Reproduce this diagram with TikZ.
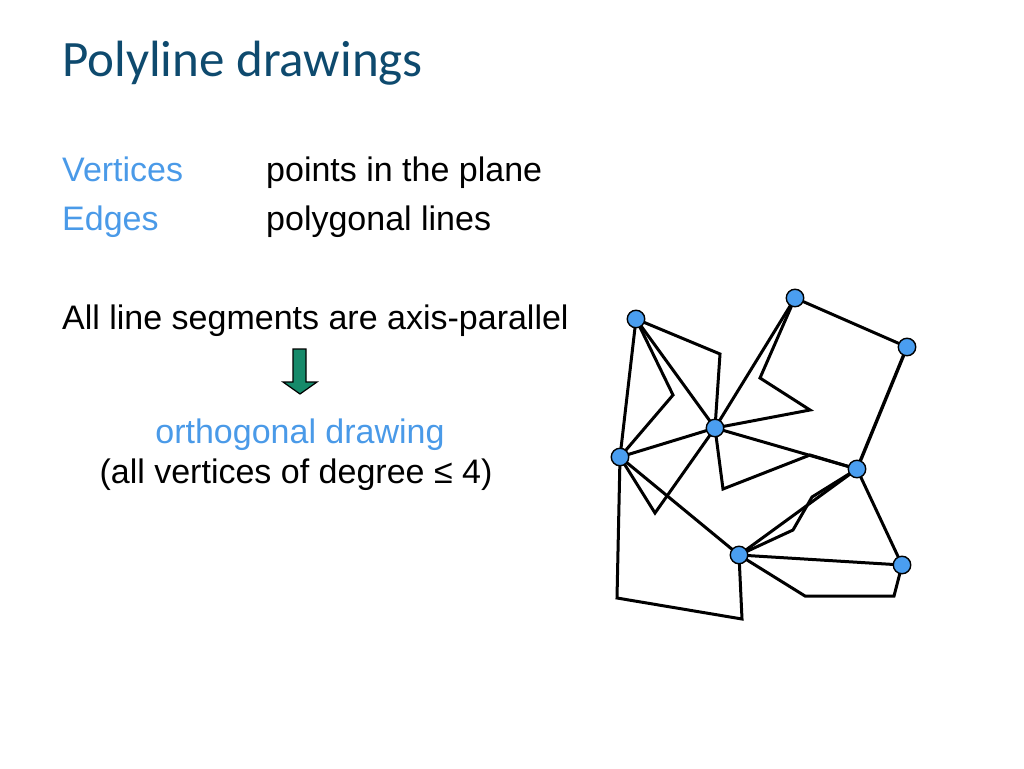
\documentclass[tikz,border=0pt]{standalone}
\usepackage{fontspec}
\setmainfont{Liberation Sans}
\newfontfamily\titlefont{Carlito}
\definecolor{titleblue}{HTML}{0E4A6E}
\definecolor{lightblue}{HTML}{4A9AE8}
\definecolor{vfill}{HTML}{4A9EF0}
\definecolor{arrowgreen}{HTML}{168A6A}
\begin{document}
\begin{tikzpicture}[x=1pt,y=-1pt,
  vtx/.style={circle,draw=black,line width=1.4pt,fill=vfill,minimum size=17.5pt,inner sep=0pt},
  edge/.style={line width=3pt,line join=miter},
  txt/.style={anchor=base west,inner sep=0pt,font=\fontsize{34}{40}\selectfont},
  bluetxt/.style={txt,text=lightblue}]
\useasboundingbox (0,0) rectangle (1024,768);
\node[anchor=base west,inner sep=0pt,text=titleblue,font=\titlefont\fontsize{51}{60}\selectfont] (title) at (62,77) {Polyline drawings};
\node[bluetxt] (lv) at (62,181) {Vertices};
\node[txt] (tv) at (266,181) {points in the plane};
\node[bluetxt] (le) at (62,230) {Edges};
\node[txt] (te) at (266,230) {polygonal lines};
\node[txt] (all) at (62,329) {All line segments are axis-parallel};
\node[bluetxt,anchor=base] (orth) at (300,443) {orthogonal drawing};
\node[txt,anchor=base] (deg) at (296,483) {(all vertices of degree ≤ 4)};
% arrow
\draw[fill=arrowgreen,line width=1.2pt,line join=miter] (293,349) -- (306,349) -- (306,382) -- (317,382) -- (300,394) -- (283,382) -- (293,382) -- cycle;
% vertices positions
\coordinate (A) at (636,319);
\coordinate (B) at (795,298);
\coordinate (C) at (907,347);
\coordinate (D) at (715,428);
\coordinate (E) at (620,457);
\coordinate (F) at (857,469);
\coordinate (G) at (739,555);
\coordinate (H) at (902,565);
% bends
\coordinate (b1) at (720,354);
\coordinate (b2) at (673,395);
\coordinate (b3) at (760,378);
\coordinate (b4) at (810,410);
\coordinate (b5) at (723,489);
\coordinate (b6) at (810,455);
\coordinate (b7) at (655,513);
\coordinate (b8) at (617,598);
\coordinate (b9) at (742,619);
\coordinate (b10) at (793,530);
\coordinate (b11) at (812,497);
\coordinate (b12) at (805,596);
\coordinate (b13) at (894,596);
% edges
\draw[edge] (A) -- (b1) -- (D);
\draw[edge] (A) -- (b2) -- (E);
\draw[edge] (A) -- (D);
\draw[edge] (A) -- (E);
\draw[edge] (B) -- (D);
\draw[edge] (B) -- (b3) -- (b4) -- (D);
\draw[edge] (B) -- (C);
\draw[edge,line width=3.4pt] (C) -- (F);
\draw[edge] (D) -- (E);
\draw[edge] (D) -- (F);
\draw[edge] (D) -- (b5) -- (b6) -- (F);
\draw[edge] (E) -- (b7) -- (D);
\draw[edge] (E) -- (G);
\draw[edge] (E) -- (b8) -- (b9) -- (G);
\draw[edge] (G) -- (F);
\draw[edge] (G) -- (b10) -- (b11) -- (F);
\draw[edge] (G) -- (H);
\draw[edge] (G) -- (b12) -- (b13) -- (H);
\draw[edge] (F) -- (H);
% vertex nodes
\foreach \v in {A,B,C,D,E,F,G,H} \node[vtx] (v\v) at (\v) {};
\end{tikzpicture}
\end{document}
